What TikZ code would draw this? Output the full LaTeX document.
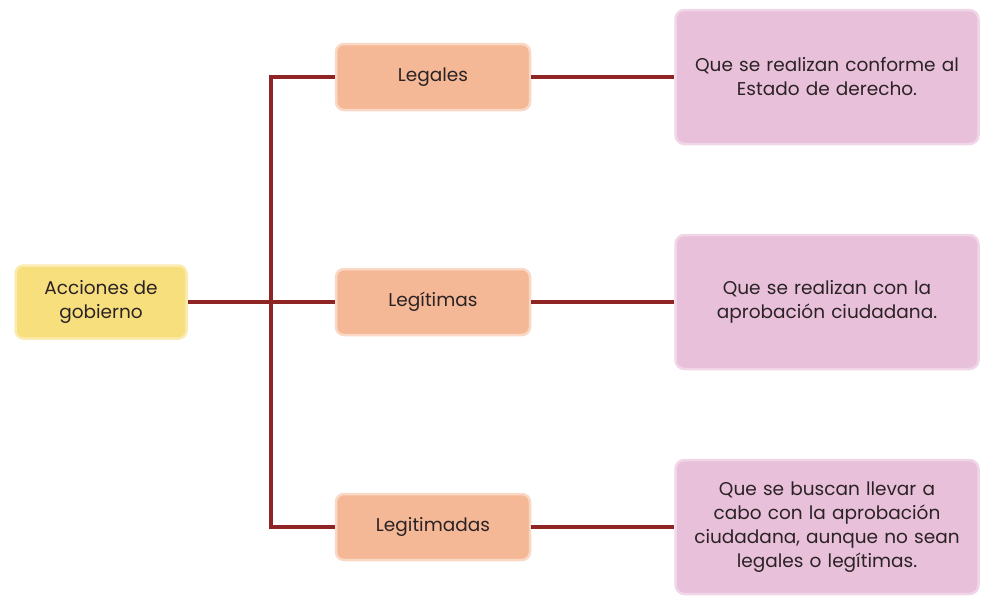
\documentclass[tikz,border=0pt]{standalone}
\usepackage{fontspec}
\setmainfont{Poppins}
\usetikzlibrary{positioning,calc}
\definecolor{Line}{HTML}{8E2424}
\definecolor{Root}{HTML}{F8DF7E}
\definecolor{RootEdge}{HTML}{FBEBB0}
\definecolor{Kind}{HTML}{F5B896}
\definecolor{KindEdge}{HTML}{FAD8C6}
\definecolor{Note}{HTML}{E8C0DA}
\definecolor{NoteEdge}{HTML}{F1D6E8}
\definecolor{Ink}{HTML}{2A2224}

\begin{document}
\begin{tikzpicture}[
 x=1pt,y=-1pt,
 every node/.style={text=Ink,font=\fontsize{18.5}{24}\selectfont},
 root/.style={draw=RootEdge,line width=2.5pt,rounded corners=8pt,fill=Root,minimum width=171pt,minimum height=73pt,align=center},
 kind/.style={draw=KindEdge,line width=2.5pt,rounded corners=8pt,fill=Kind,minimum width=194pt,minimum height=66pt,align=center},
 note/.style={draw=NoteEdge,line width=2.5pt,rounded corners=9pt,fill=Note,minimum width=303pt,minimum height=134pt,text width=290pt,align=center},
 link/.style={draw=Line,line width=3.2pt}
]
\useasboundingbox (0,0) rectangle (981,595);
\node[root] (acciones) at (101,302) {Acciones de\\gobierno};
\node[kind] (legales) at (433,77) {Legales};
\node[kind] (legitimas) at (433,302) {Legítimas};
\node[kind] (legitimadas) at (433,527) {Legitimadas};
\node[note] (conforme) at (827,77) {Que se realizan conforme al\\Estado de derecho.};
\node[note] (aprobacion) at (827,302) {Que se realizan con la\\aprobación ciudadana.};
\node[note] (aunque) at (827,527) {Que se buscan llevar a\\cabo con la aprobación\\ciudadana, aunque no sean\\legales o legítimas.};
\coordinate (trunk) at (271,302);
\draw[link] (acciones.east) -- (legitimas.west);
\draw[link] (legales.west) -| (trunk) |- (legitimadas.west);
\draw[link] (legales.east) -- (conforme.west);
\draw[link] (legitimas.east) -- (aprobacion.west);
\draw[link] (legitimadas.east) -- (aunque.west);
\end{tikzpicture}
\end{document}
